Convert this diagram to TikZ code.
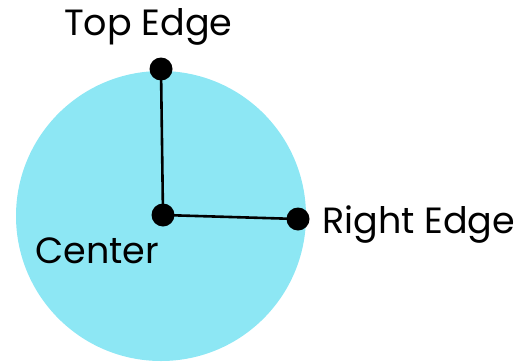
\documentclass[tikz,border=0pt]{standalone}
\usepackage{fontspec}
\setmainfont{Poppins}
\definecolor{discC}{RGB}{141,231,244}

\begin{document}
\begin{tikzpicture}[x=1pt,y=-1pt,
  dot/.style={circle,fill=black,inner sep=0pt,minimum size=23pt},
  lbl/.style={inner sep=0pt,anchor=base west,font=\fontsize{36.5}{42}\selectfont}]
\useasboundingbox (0,0) rectangle (518,361);
\fill[discC] (161,216) circle(145);
\node[dot] (ctr) at (163,215) {};
\node[dot] (top) at (161,69) {};
\node[dot] (rgt) at (298,219) {};
\draw[line width=2.6pt] (top.center)--(ctr.center)--(rgt.center);
\node[lbl] (topL) at (64,36) {Top Edge};
\node[lbl] (rgtL) at (322,233) {Right Edge};
\node[lbl] (ctrL) at (35,263) {Center};
\end{tikzpicture}
\end{document}
